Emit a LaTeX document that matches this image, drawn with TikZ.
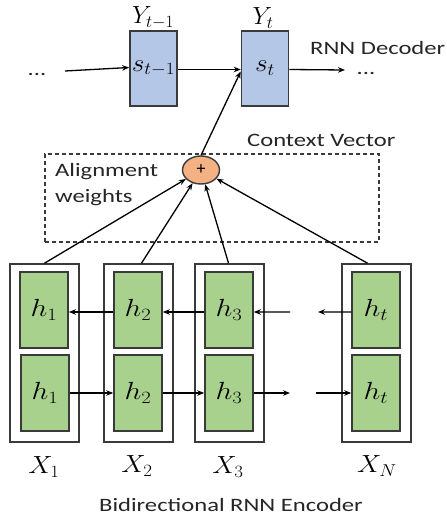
\documentclass[tikz,border=0pt]{standalone}
\usepackage{fontspec}
\usepackage{graphicx}
\setmainfont{Carlito}
\newfontfamily\widefont[FakeStretch=1.3]{Carlito}
\usetikzlibrary{arrows.meta,shapes.geometric,calc}
\definecolor{decblue}{HTML}{B4C7E7}
\definecolor{encgreen}{HTML}{A9D18E}
\definecolor{sumorange}{HTML}{F4B183}
\definecolor{edge}{HTML}{3A3A3A}
\definecolor{txt}{HTML}{262626}
\newcommand{\wm}[2][1.2]{\scalebox{#1}[1]{$#2$}}
\tikzset{
  arr/.style={-{Stealth[length=7bp,width=5.5bp]},line width=1.3bp,black},
  decbox/.style={draw=edge,line width=1.6bp,fill=decblue,minimum width=47bp,minimum height=75bp,inner sep=0pt,font=\fontsize{23}{24}\selectfont},
  outbox/.style={draw=edge,line width=1.6bp,fill=white,minimum width=69bp,minimum height=178bp,inner sep=0pt},
  hbox/.style={draw=edge,line width=1.5bp,fill=encgreen,minimum width=48bp,minimum height=76bp,inner sep=0pt,font=\fontsize{25}{26}\selectfont},
  lbl/.style={text=txt,font=\widefont\fontsize{19}{22}\selectfont,inner sep=0pt},
  mlbl/.style={text=black,font=\fontsize{23}{24}\selectfont,inner sep=0pt},
}
\begin{document}
\begin{tikzpicture}[x=1bp,y=-1bp]
\useasboundingbox[fill=white] (0,0) rectangle (447,520);
% decoder
\node[decbox] (s1) at (153.5,68.5) {\raisebox{-4bp}{\wm[1.1]{s_{t-1}}}};
\node[decbox] (s2) at (265,68.5) {\raisebox{-4bp}{\wm[1.1]{s_t}}};
\node[mlbl] (y1) at (153,18) {\wm[1.0]{Y_{t-1}}};
\node[mlbl] (y2) at (263,18) {\wm[1.0]{Y_t}};
\node[lbl,anchor=base west] (dec) at (310,55) {RNN Decoder};
\node[lbl,anchor=base] (dl) at (37,76) {...};
\node[lbl,anchor=base] (dr) at (366,75) {...};
\coordinate (dlin) at (65,71);
\coordinate (drout) at (345,70);
\draw[arr] (dlin) -- ([yshift=1bp]s1.west);
\draw[arr] ([yshift=-1bp]s1.east) -- ([yshift=-1bp]s2.west);
\draw[arr] ([yshift=-1bp]s2.east) -- (drout);
% context
\node[draw=edge,dash pattern=on 4bp off 3bp,line width=1.3bp,minimum width=334bp,minimum height=88bp,inner sep=0pt] (ctx) at (212,198) {};
\node[lbl,anchor=base west] (cv) at (247,147) {Context Vector};
\node[lbl,anchor=base west] (aw1) at (55,177) {Alignment};
\node[lbl,anchor=base west] (aw2) at (55,203) {weights};
\node[ellipse,draw=edge,line width=1.4bp,fill=sumorange,minimum width=37bp,minimum height=28bp,inner sep=0pt,font=\fontsize{18}{18}\selectfont] (plus) at (201,170) {+};
\draw[arr] (plus.north) -- ([yshift=-3bp]s2.west);
% encoder
\foreach \n/\x in {1/44.5,2/138.5,3/229.5,4/376.5}{
  \node[outbox] (o\n) at (\x,353) {};
}
\node[hbox] (t1) at (44,310) {\wm[1.2]{h_1}};
\node[hbox] (b1) at (45,393) {\wm[1.2]{h_1}};
\node[hbox] (t2) at (138,310) {\wm[1.2]{h_2}};
\node[hbox] (b2) at (138,393) {\wm[1.2]{h_2}};
\node[hbox] (t3) at (229,310) {\wm[1.2]{h_3}};
\node[hbox] (b3) at (229,393) {\wm[1.2]{h_3}};
\node[hbox] (t4) at (376,310) {\wm[1.2]{h_t}};
\node[hbox] (b4) at (376,393) {\wm[1.2]{h_t}};
\coordinate (ti) at (290,312);
\coordinate (to) at (318,312);
\coordinate (bo) at (290,393);
\coordinate (bi) at (316,393);
\draw[arr] ([yshift=-2bp]t2.west) -- ([yshift=-2bp]t1.east);
\draw[arr] ([yshift=-2bp]t3.west) -- ([yshift=-2bp]t2.east);
\draw[arr] (ti) -- ([yshift=-2bp]t3.east);
\draw[arr] ([yshift=-2bp]t4.west) -- (to);
\draw[arr] (b1.east) -- (b2.west);
\draw[arr] (b2.east) -- (b3.west);
\draw[arr] (b3.east) -- (bo);
\draw[arr] (bi) -- (b4.west);
% to the sum
\draw[arr] (o1.north) -- (plus);
\draw[arr] ([xshift=3bp]o2.north) -- (plus);
\draw[arr] ([xshift=-1bp]o3.north) -- (plus);
\draw[arr] ([xshift=-9bp]o4.north) -- (plus);
% labels
\node[mlbl] (x1) at (44,467) {\wm[1.1]{X_1}};
\node[mlbl] (x2) at (137,466) {\wm[1.1]{X_2}};
\node[mlbl] (x3) at (228,467) {\wm[1.1]{X_3}};
\node[mlbl] (xn) at (377,466) {\wm[1.1]{X_N}};
\node[lbl,anchor=base] (enc) at (231,511) {Bidirectional RNN Encoder};
\end{tikzpicture}
\end{document}
